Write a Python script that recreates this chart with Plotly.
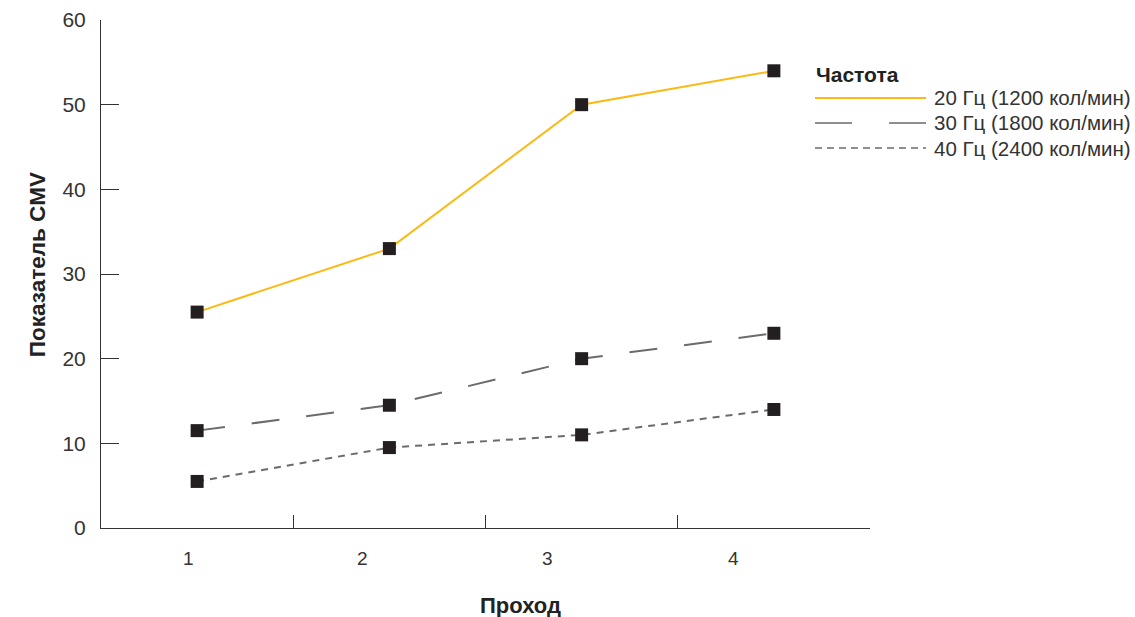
import plotly.graph_objects as go

# Data
passes = [1, 2, 3, 4]
pass_labels = ["1", "2", "3", "4"]
label_pos = [0.955, 1.86, 2.825, 3.79]   # labels in the picture sit left of the points
cmv_20hz = [25.5, 33, 50, 54]
cmv_30hz = [11.5, 14.5, 20, 23]
cmv_40hz = [5.5, 9.5, 11, 14]
series_names = ["20 Гц (1200 кол/мин)", "30 Гц (1800 кол/мин)", "40 Гц (2400 кол/мин)"]
y_ticks = [0, 10, 20, 30, 40, 50, 60]
x_boundaries = [1.5, 2.5, 3.5, 4.5]

YELLOW = "#FDB913"
GREY = "#6b6b6b"
DARK = "#231f20"
TXT = "#333333"
FONT = "Liberation Sans, Arial, sans-serif"

styles = [
    dict(color=YELLOW, dash="solid"),
    dict(color=GREY, dash="28px,27px"),
    dict(color=GREY, dash="7px,6px"),
]
legend_dash = ["solid", "37px,37px", "7px,5px"]

fig = go.Figure()
for vals, name, st in zip([cmv_20hz, cmv_30hz, cmv_40hz], series_names, styles):
    fig.add_trace(go.Scatter(
        x=passes, y=vals, name=name, mode="lines+markers",
        line=dict(color=st["color"], width=2, dash=st["dash"]),
        marker=dict(symbol="square", size=13, color=DARK),
        showlegend=False,
    ))

fig.update_layout(
    width=1135, height=617,
    margin=dict(l=101, r=265, t=20, b=89),
    plot_bgcolor="white", paper_bgcolor="white",
    font=dict(family=FONT, size=20, color=TXT),
    showlegend=False,
)

fig.update_xaxes(
    range=[0.5, 4.5], tickvals=x_boundaries, ticktext=["", "", "", ""],
    ticks="inside", ticklen=13, tickcolor=TXT, tickwidth=1,
    showline=True, linecolor=TXT, linewidth=1,
    showgrid=False, zeroline=False, automargin=False,
)
fig.update_yaxes(
    range=[0, 60], tickvals=y_ticks,
    ticks="inside", ticklen=18, tickcolor=TXT, tickwidth=1,
    showline=True, linecolor=TXT, linewidth=1,
    showgrid=False, zeroline=False, automargin=False,
    ticklabelstandoff=10,
    tickfont=dict(size=21, color=TXT),
)

# x tick labels as annotations (offset as in the source)
for pos, lab in zip(label_pos, pass_labels):
    fig.add_annotation(x=pos, y=0, xref="x", yref="y", text=lab, showarrow=False,
                       yshift=-30, font=dict(family=FONT, size=19, color=TXT))

# axis titles
fig.add_annotation(x=0.545, y=-0.153, xref="paper", yref="paper", text="<b>Проход</b>",
                   showarrow=False, yanchor="middle",
                   font=dict(family=FONT, size=22, color="#222222"))
fig.add_annotation(x=-0.101, y=0.519, xref="paper", yref="paper", text="<b>Показатель CMV</b>",
                   showarrow=False, textangle=-90,
                   font=dict(family=FONT, size=22.5, color="#222222"))

# hand-drawn legend (long line samples as in the reference)
def px_x(p):
    return (p - 101) / 769

def px_y(p):
    return (528 - p) / 508

fig.add_annotation(x=px_x(814), y=px_y(74), xref="paper", yref="paper", text="<b>Частота</b>",
                   showarrow=False, xanchor="left", yanchor="middle",
                   font=dict(family=FONT, size=21, color="#222222"))
for i, (name, st) in enumerate(zip(series_names, styles)):
    yy = px_y(98 + 25 * i)
    fig.add_shape(type="line", xref="paper", yref="paper",
                  x0=px_x(815), x1=px_x(926), y0=yy, y1=yy,
                  line=dict(color=st["color"], width=2 if i == 0 else 1.5, dash=legend_dash[i]))
    fig.add_annotation(x=px_x(932), y=yy, xref="paper", yref="paper", text=name,
                       showarrow=False, xanchor="left", yanchor="middle",
                       font=dict(family=FONT, size=20.5, color=TXT))

# drop the default page margin so the figure fills the window exactly
fig.write_html(
    "out.html",
    config={"displayModeBar": False},
    post_script="document.body.style.margin='0';document.body.style.overflow='hidden';",
)
